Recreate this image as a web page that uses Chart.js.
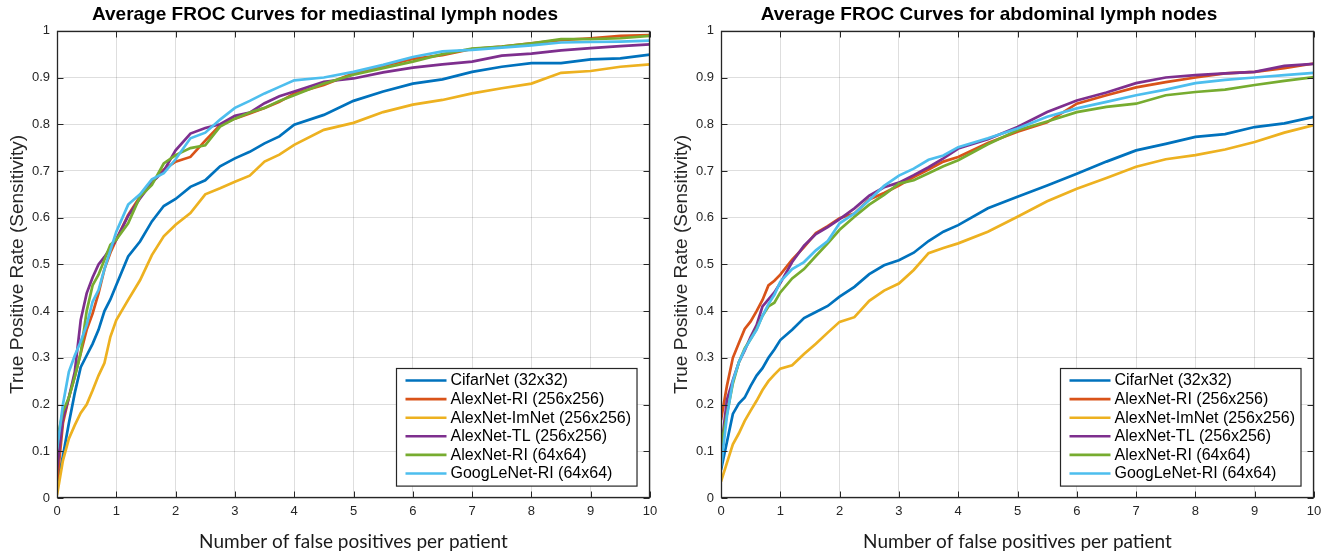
<!DOCTYPE html>
<html>
<head>
<meta charset="utf-8">
<script src="https://cdn.jsdelivr.net/npm/chart.js@4.4.1/dist/chart.umd.min.js"></script>
<style>
    html, body { margin: 0; padding: 0; background: #fff; overflow: hidden; width: 1338px; height: 554px; }
    .panel { position: absolute; top: 0; width: 707px; height: 554px; }
    #panelA { left: 0; }
    #panelB { left: 664px; }
</style>
</head>
<body>
<div class="panel" id="panelA"><canvas id="chartA" width="707" height="554"></canvas></div>
<div class="panel" id="panelB"><canvas id="chartB" width="707" height="554"></canvas></div>
<script>
// false positives per patient (x positions of the sampled curve points)
const fpPerPatient = [0, 0.1, 0.2, 0.3, 0.4, 0.5, 0.6, 0.7, 0.8, 0.9, 1.0, 1.2, 1.4, 1.6, 1.8, 2.0,
    2.25, 2.5, 2.75, 3.0, 3.25, 3.5, 3.75, 4.0, 4.5, 5.0, 5.5, 6.0, 6.5, 7.0, 7.5, 8.0, 8.5, 9.0, 9.5, 10];

const modelNames = ['CifarNet (32x32)', 'AlexNet-RI (256x256)', 'AlexNet-ImNet (256x256)',
    'AlexNet-TL (256x256)', 'AlexNet-RI (64x64)', 'GoogLeNet-RI (64x64)'];

const xTickLabels = ['0', '1', '2', '3', '4', '5', '6', '7', '8', '9', '10'];
const yTickLabels = ['0', '0.1', '0.2', '0.3', '0.4', '0.5', '0.6', '0.7', '0.8', '0.9', '1'];

// mediastinal lymph nodes
const medCifar = [0.024, 0.09, 0.16, 0.225, 0.28, 0.305, 0.33, 0.36, 0.40, 0.425, 0.456, 0.517, 0.549, 0.592, 0.625, 0.64,
    0.666, 0.68, 0.71, 0.727, 0.741, 0.759, 0.774, 0.799, 0.82, 0.85, 0.87, 0.887, 0.896, 0.912, 0.923, 0.931, 0.931, 0.939, 0.941, 0.949];
const medAlexRI256 = [0.03, 0.16, 0.215, 0.26, 0.31, 0.36, 0.395, 0.438, 0.49, 0.525, 0.553, 0.606, 0.645, 0.675, 0.703, 0.72,
    0.73, 0.765, 0.798, 0.812, 0.823, 0.835, 0.848, 0.866, 0.884, 0.909, 0.925, 0.94, 0.948, 0.961, 0.966, 0.973, 0.98, 0.984, 0.989, 0.991];
const medAlexImNet = [0.006, 0.08, 0.127, 0.156, 0.182, 0.2, 0.23, 0.262, 0.289, 0.345, 0.381, 0.424, 0.466, 0.52, 0.56, 0.585,
    0.61, 0.65, 0.663, 0.677, 0.69, 0.72, 0.735, 0.756, 0.788, 0.803, 0.826, 0.842, 0.852, 0.866, 0.877, 0.887, 0.91, 0.914, 0.923, 0.928];
const medAlexTL = [0.06, 0.17, 0.215, 0.27, 0.381, 0.438, 0.472, 0.5, 0.516, 0.535, 0.553, 0.604, 0.641, 0.675, 0.7, 0.744,
    0.78, 0.792, 0.8, 0.818, 0.825, 0.845, 0.86, 0.87, 0.891, 0.898, 0.911, 0.921, 0.928, 0.934, 0.947, 0.951, 0.958, 0.963, 0.967, 0.971];
const medAlexRI64 = [0.124, 0.185, 0.215, 0.26, 0.31, 0.4, 0.455, 0.478, 0.51, 0.542, 0.553, 0.588, 0.645, 0.67, 0.716, 0.734,
    0.749, 0.755, 0.795, 0.812, 0.825, 0.835, 0.85, 0.862, 0.887, 0.906, 0.92, 0.934, 0.95, 0.962, 0.966, 0.973, 0.982, 0.982, 0.984, 0.989];
const medGoogLeNet = [0.103, 0.2, 0.27, 0.305, 0.335, 0.37, 0.42, 0.445, 0.49, 0.53, 0.57, 0.628, 0.65, 0.682, 0.695, 0.725,
    0.77, 0.782, 0.81, 0.835, 0.85, 0.866, 0.88, 0.894, 0.9, 0.912, 0.927, 0.944, 0.956, 0.959, 0.964, 0.969, 0.975, 0.976, 0.977, 0.979];

// abdominal lymph nodes
const absCifar = [0.06, 0.12, 0.18, 0.202, 0.215, 0.24, 0.262, 0.278, 0.3, 0.318, 0.338, 0.36, 0.385, 0.398, 0.411, 0.431,
    0.452, 0.479, 0.498, 0.509, 0.525, 0.55, 0.57, 0.584, 0.62, 0.645, 0.669, 0.694, 0.72, 0.744, 0.758, 0.773, 0.779, 0.794, 0.802, 0.816];
const absAlexRI256 = [0.167, 0.24, 0.3, 0.331, 0.362, 0.378, 0.4, 0.424, 0.455, 0.465, 0.478, 0.51, 0.537, 0.567, 0.582, 0.599,
    0.609, 0.639, 0.653, 0.669, 0.687, 0.703, 0.72, 0.73, 0.76, 0.784, 0.804, 0.844, 0.862, 0.879, 0.89, 0.9, 0.909, 0.912, 0.92, 0.93];
const absAlexImNet = [0.035, 0.075, 0.115, 0.138, 0.165, 0.187, 0.208, 0.231, 0.25, 0.264, 0.277, 0.284, 0.308, 0.33, 0.354, 0.377,
    0.387, 0.422, 0.444, 0.459, 0.488, 0.524, 0.535, 0.545, 0.57, 0.602, 0.635, 0.662, 0.685, 0.709, 0.725, 0.734, 0.746, 0.762, 0.782, 0.798];
const absAlexTL = [0.1, 0.21, 0.252, 0.29, 0.316, 0.345, 0.37, 0.41, 0.425, 0.44, 0.46, 0.505, 0.54, 0.565, 0.58, 0.597,
    0.62, 0.647, 0.665, 0.675, 0.691, 0.708, 0.727, 0.748, 0.768, 0.794, 0.826, 0.851, 0.868, 0.888, 0.9, 0.905, 0.909, 0.912, 0.925, 0.929];
const absAlexRI64 = [0.11, 0.18, 0.245, 0.29, 0.32, 0.34, 0.362, 0.39, 0.41, 0.418, 0.44, 0.47, 0.49, 0.518, 0.545, 0.574,
    0.602, 0.628, 0.649, 0.673, 0.68, 0.695, 0.71, 0.723, 0.757, 0.787, 0.806, 0.826, 0.837, 0.844, 0.862, 0.869, 0.874, 0.884, 0.893, 0.901];
const absGoogLeNet = [0.067, 0.175, 0.25, 0.29, 0.318, 0.34, 0.36, 0.39, 0.415, 0.435, 0.463, 0.49, 0.505, 0.53, 0.55, 0.588,
    0.609, 0.638, 0.668, 0.69, 0.705, 0.724, 0.733, 0.751, 0.77, 0.791, 0.816, 0.834, 0.848, 0.862, 0.874, 0.888, 0.895, 0.9, 0.905, 0.91];

// matlab default line colours
const lineColors = ['#0072BD', '#D95319', '#EDB120', '#7E2F8E', '#77AC30', '#4DBEEE'];

const axisColor = '#262626';

// box around the axes with inward tick marks (matlab style)
const framePlugin = {
    id: 'frame',
    afterDatasetsDraw(chart) {
        const { ctx, chartArea: a, scales: { x, y } } = chart;
        const L = Math.round(a.left) + 0.5, R = Math.round(a.right) - 0.5;
        const T = Math.round(a.top) + 0.5, B = Math.round(a.bottom) - 0.5;
        ctx.save();
        ctx.strokeStyle = axisColor;
        ctx.lineWidth = 1;
        ctx.beginPath();
        x.ticks.forEach(function (t) {
            let px = Math.round(x.getPixelForValue(t.value)) + 0.5;
            ctx.moveTo(px, B); ctx.lineTo(px, B - 6);
            ctx.moveTo(px, T); ctx.lineTo(px, T + 6);
        });
        y.ticks.forEach(function (t) {
            let py = Math.round(y.getPixelForValue(t.value)) + 0.5;
            ctx.moveTo(L, py); ctx.lineTo(L + 6, py);
            ctx.moveTo(R, py); ctx.lineTo(R - 6, py);
        });
        ctx.stroke();
        ctx.lineWidth = 1.3;
        ctx.strokeRect(L, T, R - L, B - T);
        ctx.restore();
    }
};

// legend box inside the lower right corner of the plot
const boxLegendPlugin = {
    id: 'boxLegend',
    afterDraw(chart) {
        const { ctx, chartArea: a } = chart;
        const sets = chart.data.datasets;
        ctx.save();
        ctx.font = '16px "Liberation Sans", Arial, sans-serif';
        let maxW = 0;
        sets.forEach(function (ds) { maxW = Math.max(maxW, ctx.measureText(ds.label).width); });
        const rowH = 18.6;
        const w = 54 + maxW + 6;
        const h = rowH * sets.length + 6;
        const right = a.right - 13;
        const bottom = a.bottom - 12;
        const left = Math.round(right - w) + 0.5;
        const top = Math.round(bottom - h) + 0.5;
        ctx.fillStyle = '#fff';
        ctx.fillRect(left, top, w, h);
        ctx.strokeStyle = axisColor;
        ctx.lineWidth = 1.2;
        ctx.strokeRect(left, top, w, h);
        ctx.textBaseline = 'middle';
        sets.forEach(function (ds, i) {
            let cy = top + 12 + i * rowH;
            ctx.strokeStyle = ds.borderColor;
            ctx.lineWidth = 2.6;
            ctx.beginPath();
            ctx.moveTo(left + 9, cy);
            ctx.lineTo(left + 50, cy);
            ctx.stroke();
            ctx.fillStyle = '#000';
            ctx.fillText(ds.label, left + 54, cy + 0.5);
        });
        ctx.restore();
    }
};

function makeDatasets(seriesList) {
    return seriesList.map(function (vals, i) {
        return {
            label: modelNames[i],
            data: fpPerPatient.map(function (fx, k) { return { x: fx, y: vals[k] }; }),
            borderColor: lineColors[i],
            backgroundColor: lineColors[i],
            borderWidth: 2.7,
            pointRadius: 0,
            tension: 0,
            fill: false,
            order: seriesList.length - i
        };
    });
}

function makeChart(canvasId, titleText, seriesList) {
    let ctx = document.getElementById(canvasId).getContext('2d');
    return new Chart(ctx, {
        type: 'line',
        data: { datasets: makeDatasets(seriesList) },
        plugins: [framePlugin, boxLegendPlugin],
        options: {
            responsive: false,
            animation: false,
            layout: { padding: { left: 0, right: 57, top: 0, bottom: 0 } },
            plugins: {
                legend: { display: false },
                tooltip: { enabled: false },
                title: {
                    display: true,
                    text: titleText,
                    color: '#000',
                    font: { family: '"Liberation Sans", Arial, sans-serif', size: 19, weight: 'bold' },
                    padding: { top: 3, bottom: 5 }
                }
            },
            scales: {
                x: {
                    type: 'linear',
                    min: 0,
                    max: 10,
                    afterFit: function (scale) { scale.height = 56; },
                    ticks: {
                        stepSize: 1,
                        padding: 6,
                        color: axisColor,
                        font: { family: '"Liberation Sans", Arial, sans-serif', size: 13 },
                        maxRotation: 0,
                        callback: function (v) { return xTickLabels[Math.round(v)]; }
                    },
                    grid: { color: 'rgba(0,0,0,0.13)', lineWidth: 1, drawTicks: false },
                    border: { display: false },
                    title: {
                        display: true,
                        text: 'Number of false positives per patient',
                        color: '#1a1a1a',
                        font: { family: 'Lato, "Open Sans", sans-serif', size: 19 },
                        padding: { top: 0, bottom: 1 }
                    }
                },
                y: {
                    type: 'linear',
                    min: 0,
                    max: 1,
                    afterFit: function (scale) { scale.width = 57; },
                    ticks: {
                        stepSize: 0.1,
                        padding: 7,
                        color: axisColor,
                        font: { family: '"Liberation Sans", Arial, sans-serif', size: 13 },
                        callback: function (v) { return yTickLabels[Math.round(v * 10)]; }
                    },
                    grid: { color: 'rgba(0,0,0,0.13)', lineWidth: 1, drawTicks: false },
                    border: { display: false },
                    title: {
                        display: true,
                        text: 'True Positive Rate (Sensitivity)',
                        color: axisColor,
                        font: { family: '"Liberation Sans", Arial, sans-serif', size: 19 },
                        padding: { top: 6, bottom: 0 }
                    }
                }
            }
        }
    });
}

makeChart('chartA', 'Average FROC Curves for mediastinal lymph nodes',
    [medCifar, medAlexRI256, medAlexImNet, medAlexTL, medAlexRI64, medGoogLeNet]);
makeChart('chartB', 'Average FROC Curves for abdominal lymph nodes',
    [absCifar, absAlexRI256, absAlexImNet, absAlexTL, absAlexRI64, absGoogLeNet]);
</script>
</body>
</html>
